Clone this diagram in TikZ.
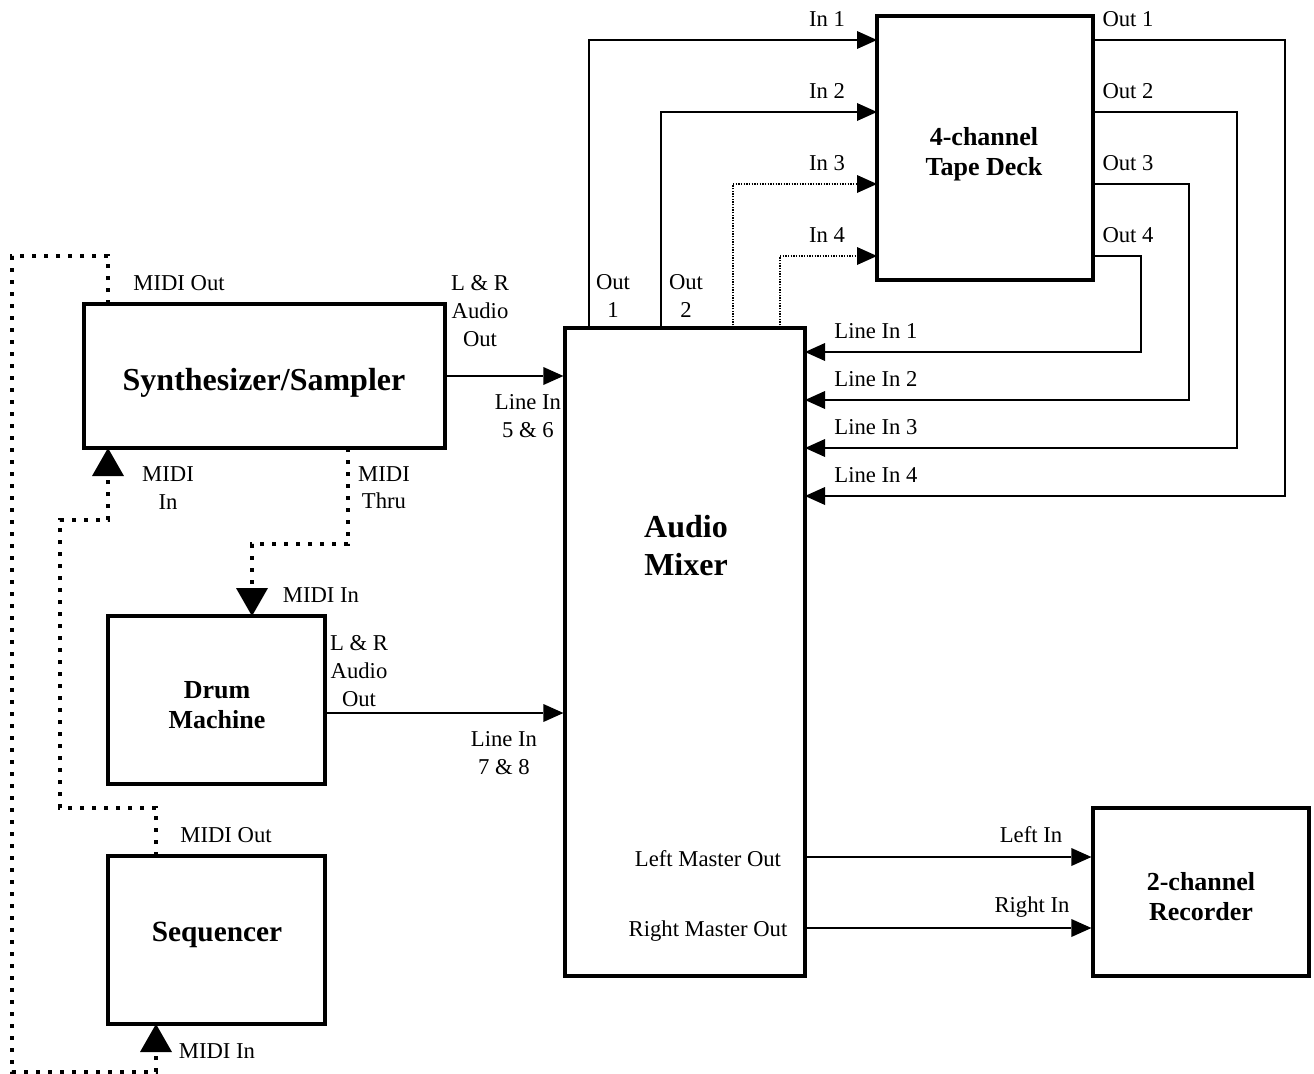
\documentclass[tikz,border=0pt]{standalone}
\usepackage{fontspec}
\setmainfont{Liberation Serif}
\usetikzlibrary{arrows.meta}
\begin{document}
\begin{tikzpicture}[x=0.75pt,y=-0.75pt,
  box/.style={draw,line width=2.4pt,inner sep=0pt},
  lbl/.style={font=\fontsize{17}{20.5}\selectfont,align=center,inner sep=0pt},
  ttl/.style={font=\fontsize{19.5}{22.5}\selectfont\bfseries,align=center,inner sep=0pt},
  big/.style={font=\fontsize{24}{28.5}\selectfont\bfseries,align=center,inner sep=0pt},
  aud/.style={line width=1.2pt,-{Triangle[length=15pt,width=13.5pt,line width=0pt]}},
  tdot/.style={line width=1.2pt,dash pattern=on 1pt off 1pt,-{Triangle[length=15pt,width=13.5pt,line width=0pt]}},
  midi/.style={line width=3.2pt,dash pattern=on 3pt off 6pt,-{Triangle[length=21pt,width=24pt,line width=0pt]}}]
\useasboundingbox (0,0) rectangle (1314,1074);

% boxes
\node[box,minimum width=270.75pt,minimum height=108pt] (synth) at (264.5,376) {};
\node[box,minimum width=162.75pt,minimum height=126pt] (drum) at (216.5,700) {};
\node[box,minimum width=162.75pt,minimum height=126pt] (seq) at (216.5,940) {};
\node[box,minimum width=180pt,minimum height=486pt] (mixer) at (685,652) {};
\node[box,minimum width=162pt,minimum height=198pt] (tape) at (985,148) {};
\node[box,minimum width=162pt,minimum height=126pt] (rec) at (1201,892) {};

% titles
\node[big] (synthT) at (264,383) {Synthesizer/Sampler};
\node[big] (mixT) at (686,546) {Audio\\Mixer};
\node[ttl] (tapeT) at (984,154) {4-channel\\Tape Deck};
\node[ttl] (drumT) at (217,705) {Drum\\Machine};
\node[ttl,font=\fontsize{22}{25}\selectfont\bfseries] (seqT) at (217,935) {Sequencer};
\node[ttl] (recT) at (1201,897) {2-channel\\Recorder};

% labels
\node[lbl] (l1) at (179,283) {MIDI Out};
\node[lbl,font=\fontsize{17}{21}\selectfont] (l2) at (480,311) {L \& R\\Audio\\Out};
\node[lbl] (l3) at (528,416) {Line In\\5 \& 6};
\node[lbl] (l4) at (168,488) {MIDI\\In};
\node[lbl] (l5) at (384,488) {MIDI\\Thru};
\node[lbl] (l6) at (321,595) {MIDI In};
\node[lbl,font=\fontsize{17}{21}\selectfont] (l7) at (359,671) {L \& R\\Audio\\Out};
\node[lbl] (l8) at (504,753) {Line In\\7 \& 8};
\node[lbl] (l9) at (226,835) {MIDI Out};
\node[lbl] (l10) at (217,1051) {MIDI In};
\node[lbl] (l11) at (613,296) {Out\\1};
\node[lbl] (l12) at (686,296) {Out\\2};
\node[lbl] (i1) at (827,19) {In 1};
\node[lbl] (i2) at (827,91) {In 2};
\node[lbl] (i3) at (827,163) {In 3};
\node[lbl] (i4) at (827,235) {In 4};
\node[lbl] (o1) at (1128,19) {Out 1};
\node[lbl] (o2) at (1128,91) {Out 2};
\node[lbl] (o3) at (1128,163) {Out 3};
\node[lbl] (o4) at (1128,235) {Out 4};
\node[lbl] (n1) at (876,331) {Line In 1};
\node[lbl] (n2) at (876,379) {Line In 2};
\node[lbl] (n3) at (876,427) {Line In 3};
\node[lbl] (n4) at (876,475) {Line In 4};
\node[lbl] (lmT) at (708,859) {Left Master Out};
\node[lbl] (rmT) at (708,931) {Right Master Out};
\node[lbl] (liT) at (1031,835) {Left In};
\node[lbl] (riT) at (1032,907) {Right In};

% coordinates
\coordinate (dOut) at (325,713);
\coordinate (mo1) at (589,328);
\coordinate (mo2) at (661,328);
\coordinate (mo3) at (733,328);
\coordinate (mo4) at (780,328);
\coordinate (ti1) at (877,40);
\coordinate (ti2) at (877,112);
\coordinate (ti3) at (877,184);
\coordinate (ti4) at (877,256);
\coordinate (to1) at (1093,40);
\coordinate (to2) at (1093,112);
\coordinate (to3) at (1093,184);
\coordinate (to4) at (1093,256);
\coordinate (li1) at (805,352);
\coordinate (li2) at (805,400);
\coordinate (li3) at (805,448);
\coordinate (li4) at (805,496);
\coordinate (lmo) at (805,857);
\coordinate (rmo) at (805,928);
\coordinate (smo) at (108,304);
\coordinate (smi) at (108,448);
\coordinate (smt) at (348,448);
\coordinate (dmi) at (252,616);
\coordinate (sqo) at (156,856);
\coordinate (sqi) at (156,1024);

% audio connectors
\draw[aud] (synth.east) -- (synth.east -| mixer.west);
\draw[aud] (dOut) -- (dOut -| mixer.west);
\draw[aud] (mo1) |- (ti1);
\draw[aud] (mo2) |- (ti2);
\draw[tdot] (mo3) |- (ti3);
\draw[tdot] (mo4) |- (ti4);
\draw[aud] (to1) -| (1285,496) -- (li4);
\draw[aud] (to2) -| (1237,448) -- (li3);
\draw[aud] (to3) -| (1189,400) -- (li2);
\draw[aud] (to4) -| (1141,352) -- (li1);
\draw[aud] (lmo) -- (lmo -| rec.west);
\draw[aud] (rmo) -- (rmo -| rec.west);

% MIDI connectors
\draw[midi] (smo) -- (108,256) -- (12,256) -- (12,1072) -- (156,1072) -- (sqi);
\draw[midi] (sqo) -- (156,808) -- (60,808) -- (60,520) -- (108,520) -- (smi);
\draw[midi] (smt) -- (348,544) -- (252,544) -- (dmi);
\end{tikzpicture}
\end{document}
